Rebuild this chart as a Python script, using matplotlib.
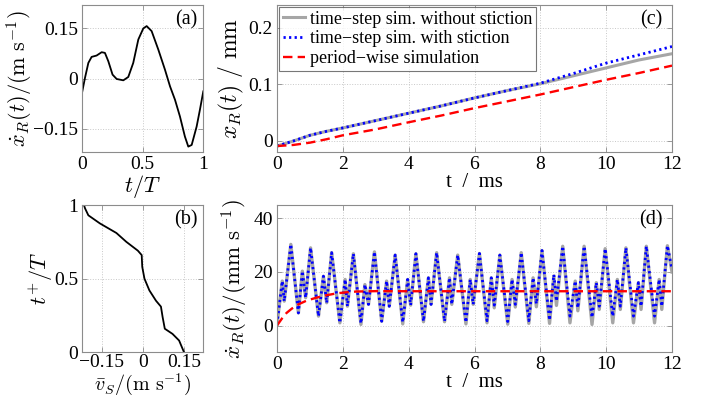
import matplotlib
matplotlib.use("Agg")
import matplotlib.pyplot as plt
import numpy as np

plt.rcParams['font.family'] = ['Liberation Serif', 'DejaVu Serif']
plt.rcParams['mathtext.fontset'] = 'cm'

# (a) rotor velocity over one period
a_t = [0.0, 0.022, 0.05, 0.077, 0.118, 0.16, 0.187, 0.215, 0.25, 0.284, 0.339, 0.38,
       0.421, 0.463, 0.504, 0.532, 0.573, 0.628, 0.683, 0.725, 0.766, 0.807, 0.848,
       0.876, 0.904, 0.945, 0.972, 1.0]
a_v = [-0.038, 0.002, 0.047, 0.065, 0.069, 0.079, 0.077, 0.052, 0.012, -0.001, -0.005, 0.005,
       0.047, 0.117, 0.150, 0.157, 0.142, 0.087, 0.027, -0.023, -0.063, -0.113, -0.173,
       -0.203, -0.198, -0.143, -0.093, -0.038]

# (b) stator velocity vs contact time
b_v = [0.150, 0.132, 0.108, 0.080, 0.072, 0.066, 0.048, 0.024, 0.006, -0.002, -0.004,
       -0.018, -0.060, -0.096, -0.156, -0.198, -0.210, -0.214]
b_t = [0.0, 0.08, 0.125, 0.16, 0.24, 0.31, 0.35, 0.42, 0.50, 0.58, 0.66,
       0.69, 0.75, 0.81, 0.875, 0.93, 0.977, 1.0]

# (c) rotor position
c_t = [0, 0.5, 1, 1.5, 2, 3, 4, 5, 6, 7, 8, 9, 10, 11, 12]
c_gray = [-0.009, 0.0, 0.010, 0.017, 0.023, 0.036, 0.049, 0.062, 0.076, 0.089, 0.101,
          0.115, 0.129, 0.143, 0.154]
c_blue = [-0.009, 0.0, 0.010, 0.017, 0.023, 0.036, 0.049, 0.062, 0.076, 0.089, 0.102,
          0.119, 0.1375, 0.152, 0.1667]
c_red = [-0.009, -0.007, -0.003, 0.003, 0.010, 0.0205, 0.033, 0.045, 0.058, 0.070, 0.082,
         0.095, 0.108, 0.120, 0.133]

# (d) rotor velocity
d_t = [0.0, 0.16, 0.22, 0.42, 0.65, 0.77, 0.87, 1.02, 1.26, 1.41, 1.51, 1.66,
       1.91, 2.07, 2.14, 2.32, 2.55, 2.67, 2.78, 2.96, 3.18, 3.33, 3.41, 3.59,
       3.82, 3.97, 4.06, 4.22, 4.45, 4.60, 4.68, 4.85, 5.09, 5.24, 5.31, 5.49,
       5.74, 5.87, 5.96, 6.15, 6.38, 6.51, 6.60, 6.77, 7.01, 7.14, 7.24, 7.42,
       7.65, 7.78, 7.88, 8.05, 8.28, 8.41, 8.49, 8.68, 8.90, 9.06, 9.14, 9.33,
       9.57, 9.70, 9.79, 9.97, 10.20, 10.34, 10.43, 10.60, 10.83, 10.98, 11.06, 11.22,
       11.47, 11.61, 11.69, 11.86, 12.0]
d_blue = [0.5, 16.6, 9.1, 30.3, 4.7, 20.3, 10.4, 29.0, 3.5, 18.4, 8.5, 27.2,
          1.0, 17.2, 7.2, 26.8, 0.8, 15.3, 7.9, 27.5, 1.6, 16.6, 7.2, 26.3,
          1.2, 17.2, 7.6, 26.8, 1.6, 17.8, 7.9, 27.2, 1.6, 17.8, 7.9, 26.3,
          1.2, 17.2, 7.9, 26.9, 1.8, 17.8, 7.6, 26.3, 1.5, 17.2, 7.9, 27.2,
          1.8, 17.8, 8.1, 28.0, 2.0, 19.0, 9.1, 29.6, 3.5, 16.6, 6.6, 29.6,
          3.0, 16.0, 7.2, 28.7, 3.5, 17.2, 7.2, 29.0, 3.5, 16.0, 7.2, 29.6,
          3.5, 17.2, 7.2, 29.8, 21.0]
d_gray = [0.5, 16.6, 9.1, 30.3, 4.7, 20.3, 10.4, 29.0, 3.5, 18.4, 8.5, 27.2,
          1.0, 17.2, 7.2, 26.8, 0.4, 15.3, 7.9, 27.5, 1.6, 16.6, 7.2, 26.3,
          0.6, 17.2, 7.6, 26.8, 1.4, 17.8, 7.9, 27.2, 1.4, 17.8, 7.9, 26.3,
          0.6, 17.2, 7.9, 26.9, 1.0, 17.8, 6.6, 26.3, 0.5, 17.2, 6.9, 27.2,
          0.8, 17.8, 7.0, 28.0, 0.8, 18.5, 7.5, 29.6, 1.0, 16.6, 5.5, 29.6,
          0.4, 16.0, 6.0, 28.7, 1.0, 17.2, 6.0, 29.0, 1.0, 16.0, 6.0, 29.6,
          1.0, 17.2, 6.0, 29.8, 20.0]
d_red_t = [0, 0.15, 0.29, 0.45, 0.65, 0.9, 1.2, 1.5, 1.81, 2.1, 2.42, 3.07, 4, 6, 8, 10, 12]
d_red = [0, 2.6, 4.7, 6.3, 7.9, 9.3, 10.4, 11.3, 12.0, 12.4, 12.7, 12.85, 12.8, 12.8, 12.8, 12.8, 12.8]

frame = '#8c8c8c'
gridc = '#c8c8c8'


def style(ax):
    for s in ax.spines.values():
        s.set_color(frame)
        s.set_linewidth(0.8)
    ax.tick_params(direction='in', length=3.5, width=0.6, color=frame,
                   top=True, right=True, labelsize=14, pad=3)
    ax.grid(True, linestyle=':', color=gridc, linewidth=0.7)
    ax.set_axisbelow(True)


fig = plt.figure(figsize=(7.02, 4.01), dpi=100)
W, H = 702.0, 401.0
ax_a = fig.add_axes([82.3 / W, 1 - 152.3 / H, 121 / W, 147.3 / H])
ax_b = fig.add_axes([82.3 / W, 1 - 352.3 / H, 121 / W, 147.3 / H])
ax_c = fig.add_axes([277 / W, 1 - 152.3 / H, 395 / W, 147.3 / H])
ax_d = fig.add_axes([277 / W, 1 - 352.3 / H, 395 / W, 147.3 / H])

# (a)
ax_a.plot(a_t, a_v, color='black', lw=1.3)
ax_a.set_xlim(0, 1)
ax_a.set_ylim(-0.22, 0.22)
ax_a.set_xticks([0, 0.5, 1])
ax_a.set_xticklabels(['0', '0.5', '1'])
ax_a.set_yticks([-0.15, 0, 0.15])
ax_a.set_yticklabels(['\u22120.15', '0', '0.15'])
ax_a.set_xlabel(r'$t/T$', fontsize=16, labelpad=0)
ax_a.set_ylabel(r'$\dot{x}_R(t)/(\mathrm{m\ s^{-1}})$', fontsize=16, labelpad=-1)
ax_a.text(0.95, 0.9, '(a)', transform=ax_a.transAxes, ha='right', va='center', fontsize=14.5)
style(ax_a)

# (b)
ax_b.plot(b_v, b_t, color='black', lw=1.3)
ax_b.set_xlim(-0.22, 0.22)
ax_b.set_ylim(0, 1)
ax_b.set_xticks([-0.15, 0, 0.15])
ax_b.set_xticklabels(['\u22120.15', '0', '0.15'])
ax_b.set_yticks([0, 0.5, 1])
ax_b.set_yticklabels(['0', '0.5', '1'])
ax_b.set_xlabel(r'$\bar{v}_S/(\mathrm{m\ s^{-1}})$', fontsize=14.5, labelpad=0)
ax_b.set_ylabel(r'$t^{+}/T$', fontsize=16, labelpad=-1)
ax_b.text(0.95, 0.9, '(b)', transform=ax_b.transAxes, ha='right', va='center', fontsize=14.5)
style(ax_b)
ax_b.tick_params(axis='x', pad=1.5)

# (c)
ax_c.plot(c_t, c_gray, color='#a6a6a6', lw=2.2, label='time\u2212step sim. without stiction')
ax_c.plot(c_t, c_blue, color='blue', lw=2.0, linestyle=(0, (0.8, 1.2)),
          label='time\u2212step sim. with stiction')
ax_c.plot(c_t, c_red, color='red', lw=1.7, linestyle=(0, (4, 2.2)), label='period\u2212wise simulation')
ax_c.set_xlim(0, 12)
ax_c.set_ylim(-0.02, 0.24)
ax_c.set_xticks(range(0, 13, 2))
ax_c.set_yticks([0, 0.1, 0.2])
ax_c.set_yticklabels(['0', '0.1', '0.2'])
ax_c.set_xlabel('t  /  ms', fontsize=15, labelpad=0)
ax_c.set_ylabel(r'$x_R(t)\ /\ \mathrm{mm}$', fontsize=17, labelpad=2)
ax_c.text(0.975, 0.9, '(c)', transform=ax_c.transAxes, ha='right', va='center', fontsize=14.5)
leg = ax_c.legend(loc='upper left', fontsize=13, frameon=True, fancybox=False,
                  edgecolor='#555555', borderaxespad=0.12, handlelength=1.25,
                  handletextpad=0.25, labelspacing=0.15, borderpad=0.2)
leg.get_frame().set_linewidth(0.8)
style(ax_c)

# (d)
ax_d.plot(d_t, d_gray, color='#a6a6a6', lw=2.4)
ax_d.plot(d_t, d_blue, color='blue', lw=2.0, linestyle=(0, (0.8, 1.2)))
ax_d.plot(d_red_t, d_red, color='red', lw=1.7, linestyle=(0, (4, 2.2)))
ax_d.set_xlim(0, 12)
ax_d.set_ylim(-10, 45)
ax_d.set_xticks(range(0, 13, 2))
ax_d.set_yticks([0, 20, 40])
ax_d.set_xlabel('t  /  ms', fontsize=15, labelpad=0)
ax_d.set_ylabel(r'$\dot{x}_R(t)/(\mathrm{mm\ s^{-1}})$', fontsize=16.5, labelpad=2)
ax_d.text(0.975, 0.9, '(d)', transform=ax_d.transAxes, ha='right', va='center', fontsize=14.5)
style(ax_d)

fig.savefig('out.png', dpi=100)
